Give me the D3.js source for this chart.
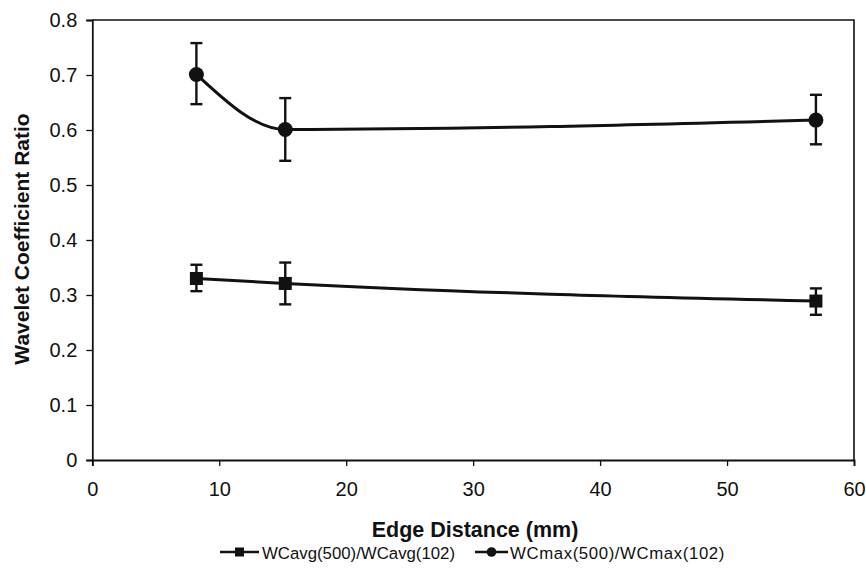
<!DOCTYPE html>
<html>
<head>
<meta charset="utf-8">
<script src="https://cdn.jsdelivr.net/npm/d3@7"></script>
<style>
  html, body { margin: 0; padding: 0; background: #fff; }
  svg { display: block; }
  text { font-family: "Liberation Sans", Arial, sans-serif; fill: #111; }
</style>
</head>
<body>
<svg id="chart" width="866" height="571"></svg>
<script>
// Edge distance (mm) at which each ratio was measured
const edgeDistance = [8.2, 15.2, 57];

// WCavg(500)/WCavg(102): mean ratio with lower / upper error limits
const avgRatio = [0.330, 0.321, 0.289];
const avgLow   = [0.307, 0.283, 0.264];
const avgHigh  = [0.355, 0.359, 0.312];

// WCmax(500)/WCmax(102): mean ratio with lower / upper error limits
const maxRatio = [0.701, 0.601, 0.618];
const maxLow   = [0.647, 0.544, 0.574];
const maxHigh  = [0.758, 0.658, 0.664];

const xTicks = [0, 10, 20, 30, 40, 50, 60];
const yTicks = [0, 0.1, 0.2, 0.3, 0.4, 0.5, 0.6, 0.7, 0.8];

const seriesNames = ["WCavg(500)/WCavg(102)", "WCmax(500)/WCmax(102)"];

const svg = d3.select("#chart");
const ink = "#111";

const x = d3.scaleLinear().domain([0, 60]).range([92.3, 854]);
const y = d3.scaleLinear().domain([0, 0.8]).range([460, 20]);

// Plot frame (top and right edges)
svg.append("path")
  .attr("d", `M${x(0)},${y(0.8)}H${x(60)}V${y(0)}`)
  .attr("fill", "none").attr("stroke", ink).attr("stroke-width", 1.6);

// Y axis
const yAxis = svg.append("g")
  .attr("transform", `translate(${x(0)},0)`)
  .call(d3.axisLeft(y).tickValues(yTicks).tickSize(6).tickPadding(9)
    .tickFormat(d => d === 0 ? "0" : d3.format(".1f")(d)));
yAxis.select(".domain").attr("stroke", ink).attr("stroke-width", 1.8);
yAxis.selectAll(".tick line").attr("stroke", ink).attr("stroke-width", 1.3);
yAxis.selectAll(".tick text")
  .attr("font-size", 20).attr("fill", ink)
  .attr("font-family", "'Liberation Sans', Arial, sans-serif");

// X axis
const xAxis = svg.append("g")
  .attr("transform", `translate(0,${y(0)})`)
  .call(d3.axisBottom(x).tickValues(xTicks).tickSize(6).tickPadding(16)
    .tickFormat(d3.format("d")));
xAxis.select(".domain").attr("stroke", ink).attr("stroke-width", 1.8);
xAxis.selectAll(".tick line").attr("stroke", ink).attr("stroke-width", 1.3);
xAxis.selectAll(".tick text")
  .attr("font-size", 20).attr("fill", ink)
  .attr("font-family", "'Liberation Sans', Arial, sans-serif");

// Axis titles
svg.append("text")
  .attr("x", 475).attr("y", 537)
  .attr("text-anchor", "middle")
  .attr("font-size", 21.5).attr("font-weight", "bold")
  .text("Edge Distance (mm)");

svg.append("text")
  .attr("transform", "translate(29,239) rotate(-90)")
  .attr("text-anchor", "middle")
  .attr("font-size", 21).attr("font-weight", "bold")
  .text("Wavelet Coefficient Ratio");

const line = d3.line()
  .x(d => x(d[0]))
  .y(d => y(d[1]))
  .curve(d3.curveMonotoneX);

function drawSeries(vals, low, high, marker) {
  const pts = edgeDistance.map((d, i) => [d, vals[i]]);
  const g = svg.append("g");

  g.append("path")
    .attr("d", line(pts))
    .attr("fill", "none").attr("stroke", ink).attr("stroke-width", 3);

  // Error bars
  edgeDistance.forEach((d, i) => {
    const cx = x(d);
    g.append("line")
      .attr("x1", cx).attr("x2", cx).attr("y1", y(low[i])).attr("y2", y(high[i]))
      .attr("stroke", ink).attr("stroke-width", 2.4);
    [low[i], high[i]].forEach(v => {
      g.append("line")
        .attr("x1", cx - 6).attr("x2", cx + 6).attr("y1", y(v)).attr("y2", y(v))
        .attr("stroke", ink).attr("stroke-width", 2.4);
    });
  });

  // Markers
  pts.forEach(p => {
    if (marker === "square") {
      g.append("rect")
        .attr("x", x(p[0]) - 6.5).attr("y", y(p[1]) - 6.5)
        .attr("width", 13).attr("height", 13).attr("fill", ink);
    } else {
      g.append("circle")
        .attr("cx", x(p[0])).attr("cy", y(p[1])).attr("r", 7.5).attr("fill", ink);
    }
  });
}

drawSeries(avgRatio, avgLow, avgHigh, "square");
drawSeries(maxRatio, maxLow, maxHigh, "circle");

// Legend
const legendItems = [
  { name: seriesNames[0], marker: "square", x0: 220, x1: 259, tx: 262, spacing: 0 },
  { name: seriesNames[1], marker: "circle", x0: 475, x1: 508, tx: 510, spacing: 0.6 }
];
const ly = 552;
legendItems.forEach(item => {
  const g = svg.append("g");
  g.append("line")
    .attr("x1", item.x0).attr("x2", item.x1).attr("y1", ly).attr("y2", ly)
    .attr("stroke", ink).attr("stroke-width", 2.4);
  const mx = (item.x0 + item.x1) / 2;
  if (item.marker === "square") {
    g.append("rect").attr("x", mx - 4.5).attr("y", ly - 4.5)
      .attr("width", 9).attr("height", 9).attr("fill", ink);
  } else {
    g.append("circle").attr("cx", mx).attr("cy", ly).attr("r", 4.8).attr("fill", ink);
  }
  g.append("text")
    .attr("x", item.tx).attr("y", 559)
    .attr("font-size", 16.8)
    .attr("letter-spacing", item.spacing)
    .text(item.name);
});
</script>
</body>
</html>
